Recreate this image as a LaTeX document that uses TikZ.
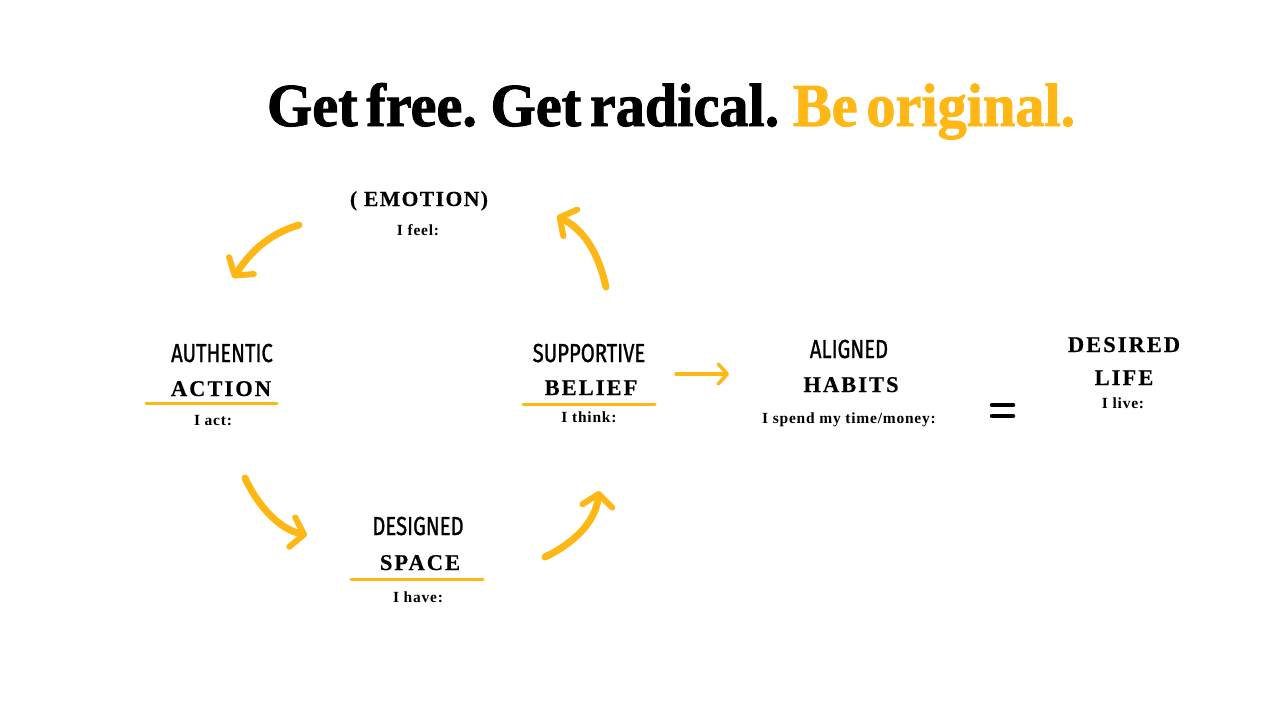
\documentclass[tikz,border=0pt]{standalone}
\usepackage{fontspec}
\usepackage{graphicx}
\setmainfont{Liberation Serif}
\newfontfamily\titlefont[FakeBold=1.6, WordSpace=0.6]{Liberation Serif}
\newfontfamily\handfont[FakeBold=1.2]{Fira Sans}
\newfontfamily\capsfont[LetterSpace=9, FakeBold=0.4]{Liberation Serif}
\newfontfamily\emofont[LetterSpace=7, FakeBold=0.4]{Liberation Serif}
\newfontfamily\smallfont[LetterSpace=5]{Liberation Serif}
\usetikzlibrary{arrows.meta}
\definecolor{amber}{RGB}{254,183,21}
\newcommand\hw[1]{\scalebox{0.78}[1]{\handfont\fontsize{26}{26}\selectfont #1}}
\tikzset{
  every node/.style={inner sep=0pt, outer sep=0pt},
  capsbox/.style={anchor=base, font=\capsfont\bfseries\fontsize{22.5}{22.5}\selectfont},
  emobox/.style={anchor=base, font=\emofont\bfseries\fontsize{21.5}{21.5}\selectfont},
  sub/.style={anchor=base, font=\smallfont\bfseries\fontsize{15.5}{15.5}\selectfont},
  uline/.style={draw=amber, line width=3pt, line cap=round},
  curvy/.style={draw=amber, line width=7pt, line cap=round,
    -{Straight Barb[length=12pt, width=30pt, line width=6pt, round]}},
  flat/.style={draw=amber, line width=3.5pt, line cap=round,
    -{Straight Barb[length=9pt, width=20pt, line width=3.5pt, round]}},
  eqbar/.style={draw=black, line width=4.5pt, line cap=round}
}
\begin{document}
\begin{tikzpicture}[x=1pt, y=-1pt]
\useasboundingbox (0,0) rectangle (1280,720);
\fill[white] (0,0) rectangle (1280,720);
% title
\node[anchor=base west] (title) at (267,126)
  {\resizebox{808pt}{43pt}{\titlefont\bfseries Get free. Get radical. \textcolor{amber}{Be original.}}};
% emotion
\node[emobox] (emotion) at (419,206) {( EMOTION)};
\node[sub] (feel) at (418,235) {I feel:};
% authentic action
\node[anchor=base] (authentic) at (222,362) {\hw{AUTHENTIC}};
\node[capsbox] (action) at (221,396) {ACTION};
\coordinate (actL) at (146,403);
\coordinate (actR) at (277,403);
\draw[uline] (actL) -- (actR);
\node[sub] (act) at (213,425) {I act:};
% designed space
\node[anchor=base] (designed) at (418,535) {\hw{DESIGNED}};
\node[capsbox] (space) at (420,570) {SPACE};
\coordinate (spL) at (351,579);
\coordinate (spR) at (483,579);
\draw[uline] (spL) -- (spR);
\node[sub] (have) at (418,602) {I have:};
% supportive belief
\node[anchor=base] (supportive) at (589,362) {\hw{SUPPORTIVE}};
\node[capsbox] (belief) at (591,395) {BELIEF};
\coordinate (beL) at (523,404);
\coordinate (beR) at (655,404);
\draw[uline] (beL) -- (beR);
\node[sub] (think) at (589,422) {I think:};
% aligned habits
\node[anchor=base] (aligned) at (849,358) {\hw{ALIGNED}};
\node[capsbox] (habits) at (851,392) {HABITS};
\node[sub] (spend) at (849,423) {I spend my time/money:};
% equals
\coordinate (e1a) at (992,405);
\coordinate (e1b) at (1013,405);
\coordinate (e2a) at (992,416);
\coordinate (e2b) at (1013,416);
\draw[eqbar] (e1a) -- (e1b);
\draw[eqbar] (e2a) -- (e2b);
% desired life
\node[capsbox] (desired) at (1124,352) {DESIRED};
\node[capsbox] (life) at (1124,385) {LIFE};
\node[sub] (live) at (1123,408) {I live:};
% arrows
\coordinate (a1s) at (299,225);
\coordinate (a1e) at (233,278);
\draw[curvy] (a1s) .. controls (265,235) and (248,256) .. (a1e);
\coordinate (a2s) at (606,287);
\coordinate (a2e) at (557,216);
\draw[curvy] (a2s) .. controls (598,252) and (584,230) .. (a2e);
\coordinate (a3s) at (245,478);
\coordinate (a3e) at (307,535);
\draw[curvy] (a3s) .. controls (260,510) and (282,530) .. (a3e);
\coordinate (a4s) at (545,557);
\coordinate (a4e) at (599,491);
\draw[curvy] (a4s) .. controls (580,540) and (596,518) .. (a4e);
\coordinate (a5s) at (676,374);
\coordinate (a5e) at (729,374);
\draw[flat] (a5s) -- (a5e);
\end{tikzpicture}
\end{document}
